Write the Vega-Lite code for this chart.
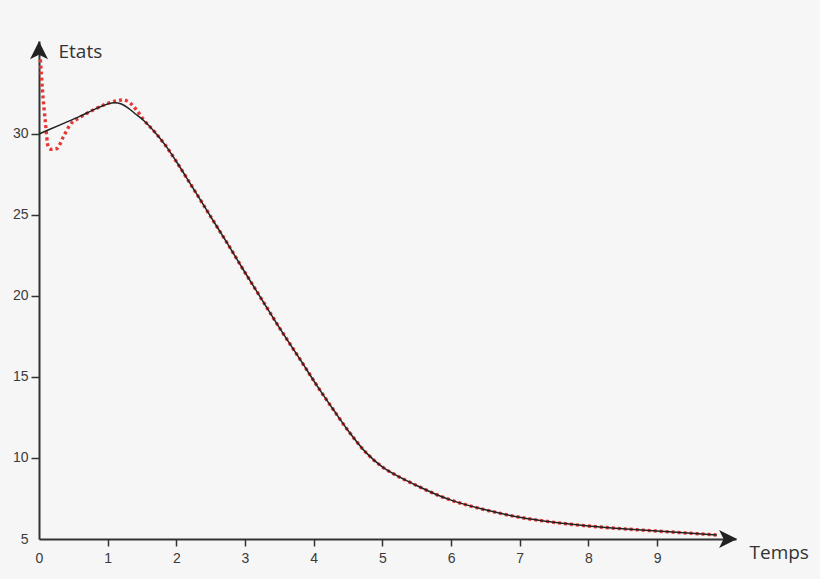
{
  "$schema": "https://vega.github.io/schema/vega-lite/v6.json",
  "background": "#f6f6f6",
  "autosize": {"type": "none"},
  "padding": {"left": 39, "top": 41, "right": 84, "bottom": 40},
  "width": 697,
  "height": 498,
  "config": {
    "view": {"stroke": null},
    "axis": {
      "grid": false,
      "labelFlush": false,
      "domainColor": "#333333",
      "domainWidth": 2,
      "tickColor": "#333333",
      "tickWidth": 1.5,
      "labelFont": "Liberation Sans",
      "labelFontSize": 14,
      "labelColor": "#3a3a3a",
      "titleFont": "Open Sans",
      "titleFontSize": 19,
      "titleFontWeight": "normal",
      "titleColor": "#333333"
    }
  },
  "datasets": {
    "exact": [
      {"t": 0, "v": 30},
      {"t": 0.3, "v": 30.55},
      {"t": 0.6, "v": 31.1},
      {"t": 0.85, "v": 31.6},
      {"t": 1.0, "v": 31.85},
      {"t": 1.1, "v": 31.93},
      {"t": 1.2, "v": 31.85},
      {"t": 1.3, "v": 31.6},
      {"t": 1.4, "v": 31.25},
      {"t": 1.52, "v": 30.85},
      {"t": 1.7, "v": 30.05},
      {"t": 1.85, "v": 29.25},
      {"t": 2.0, "v": 28.3},
      {"t": 2.2, "v": 26.95},
      {"t": 2.35, "v": 25.93},
      {"t": 2.5, "v": 24.9},
      {"t": 2.75, "v": 23.2},
      {"t": 3.0, "v": 21.45},
      {"t": 3.25, "v": 19.75},
      {"t": 3.5, "v": 18.05},
      {"t": 3.8, "v": 16.1},
      {"t": 4.05, "v": 14.45},
      {"t": 4.29, "v": 12.96},
      {"t": 4.5, "v": 11.7},
      {"t": 4.77, "v": 10.3},
      {"t": 5.0, "v": 9.45},
      {"t": 5.26, "v": 8.8},
      {"t": 5.5, "v": 8.3},
      {"t": 5.84, "v": 7.65},
      {"t": 6.0, "v": 7.4},
      {"t": 6.5, "v": 6.8},
      {"t": 7.0, "v": 6.34},
      {"t": 7.5, "v": 6.03},
      {"t": 8.0, "v": 5.8},
      {"t": 8.5, "v": 5.63},
      {"t": 9.0, "v": 5.49},
      {"t": 9.5, "v": 5.35},
      {"t": 9.87, "v": 5.25}
    ],
    "estimate": [
      {"t": 0.02, "v": 34.6},
      {"t": 0.05, "v": 32.7},
      {"t": 0.09, "v": 30.86},
      {"t": 0.135, "v": 29.2},
      {"t": 0.185, "v": 29.05},
      {"t": 0.26, "v": 29.1},
      {"t": 0.355, "v": 29.83},
      {"t": 0.45, "v": 30.55},
      {"t": 0.6, "v": 31.03},
      {"t": 0.84, "v": 31.59},
      {"t": 1.03, "v": 31.93},
      {"t": 1.23, "v": 32.1},
      {"t": 1.33, "v": 31.9},
      {"t": 1.42, "v": 31.48},
      {"t": 1.52, "v": 30.9},
      {"t": 1.7, "v": 30.05},
      {"t": 1.85, "v": 29.25},
      {"t": 2.0, "v": 28.3},
      {"t": 2.2, "v": 26.95},
      {"t": 2.35, "v": 25.93},
      {"t": 2.5, "v": 24.9},
      {"t": 2.75, "v": 23.2},
      {"t": 3.0, "v": 21.45},
      {"t": 3.25, "v": 19.75},
      {"t": 3.5, "v": 18.05},
      {"t": 3.8, "v": 16.1},
      {"t": 4.05, "v": 14.45},
      {"t": 4.29, "v": 12.96},
      {"t": 4.5, "v": 11.7},
      {"t": 4.77, "v": 10.3},
      {"t": 5.0, "v": 9.45},
      {"t": 5.26, "v": 8.8},
      {"t": 5.5, "v": 8.3},
      {"t": 5.84, "v": 7.65},
      {"t": 6.0, "v": 7.4},
      {"t": 6.5, "v": 6.8},
      {"t": 7.0, "v": 6.34},
      {"t": 7.5, "v": 6.03},
      {"t": 8.0, "v": 5.8},
      {"t": 8.5, "v": 5.63},
      {"t": 9.0, "v": 5.49},
      {"t": 9.5, "v": 5.35},
      {"t": 9.87, "v": 5.25}
    ],
    "arrows": [
      {"t": 0, "v": 35.1, "dir": "up"},
      {"t": 10.02, "v": 5, "dir": "right"}
    ]
  },
  "encoding": {
    "x": {
      "field": "t",
      "type": "quantitative",
      "scale": {"domain": [0, 10.15], "nice": false, "zero": false},
      "axis": {
        "title": "Temps",
        "values": [0, 1, 2, 3, 4, 5, 6, 7, 8, 9],
        "tickSize": 7,
        "labelPadding": 5,
        "tickOpacity": {"condition": {"test": "datum.value === 0", "value": 0}, "value": 1},
        "titleAngle": 0,
        "titleAnchor": "start",
        "titleAlign": "left",
        "titleBaseline": "alphabetic",
        "titleX": 710,
        "titleY": 19
      }
    },
    "y": {
      "field": "v",
      "type": "quantitative",
      "scale": {"domain": [5, 35.74], "nice": false, "zero": false},
      "axis": {
        "title": "Etats",
        "values": [5, 10, 15, 20, 25, 30],
        "tickSize": 8,
        "labelPadding": 3,
        "tickOpacity": {"condition": {"test": "datum.value === 5", "value": 0}, "value": 1},
        "titleAngle": 0,
        "titleAnchor": "start",
        "titleAlign": "left",
        "titleBaseline": "alphabetic",
        "titleX": 19,
        "titleY": 16
      }
    }
  },
  "layer": [
    {
      "data": {"name": "estimate"},
      "mark": {
        "type": "line",
        "interpolate": "monotone",
        "color": "#e53935",
        "strokeWidth": 3.4,
        "strokeDash": [3, 3],
        "strokeCap": "butt"
      }
    },
    {
      "data": {"name": "exact"},
      "mark": {
        "type": "line",
        "interpolate": "monotone",
        "color": "#222222",
        "strokeWidth": 1.5
      }
    },
    {
      "data": {"name": "arrows"},
      "mark": {"type": "point", "filled": true, "opacity": 1, "size": 400, "color": "#222222"},
      "encoding": {
        "shape": {
          "field": "dir",
          "type": "nominal",
          "scale": {
            "domain": ["up", "right"],
            "range": ["M0,-1L0.9,0.8L0,0.35L-0.9,0.8Z", "M1,0L-0.8,-0.9L-0.35,0L-0.8,0.9Z"]
          },
          "legend": null
        }
      }
    }
  ]
}
